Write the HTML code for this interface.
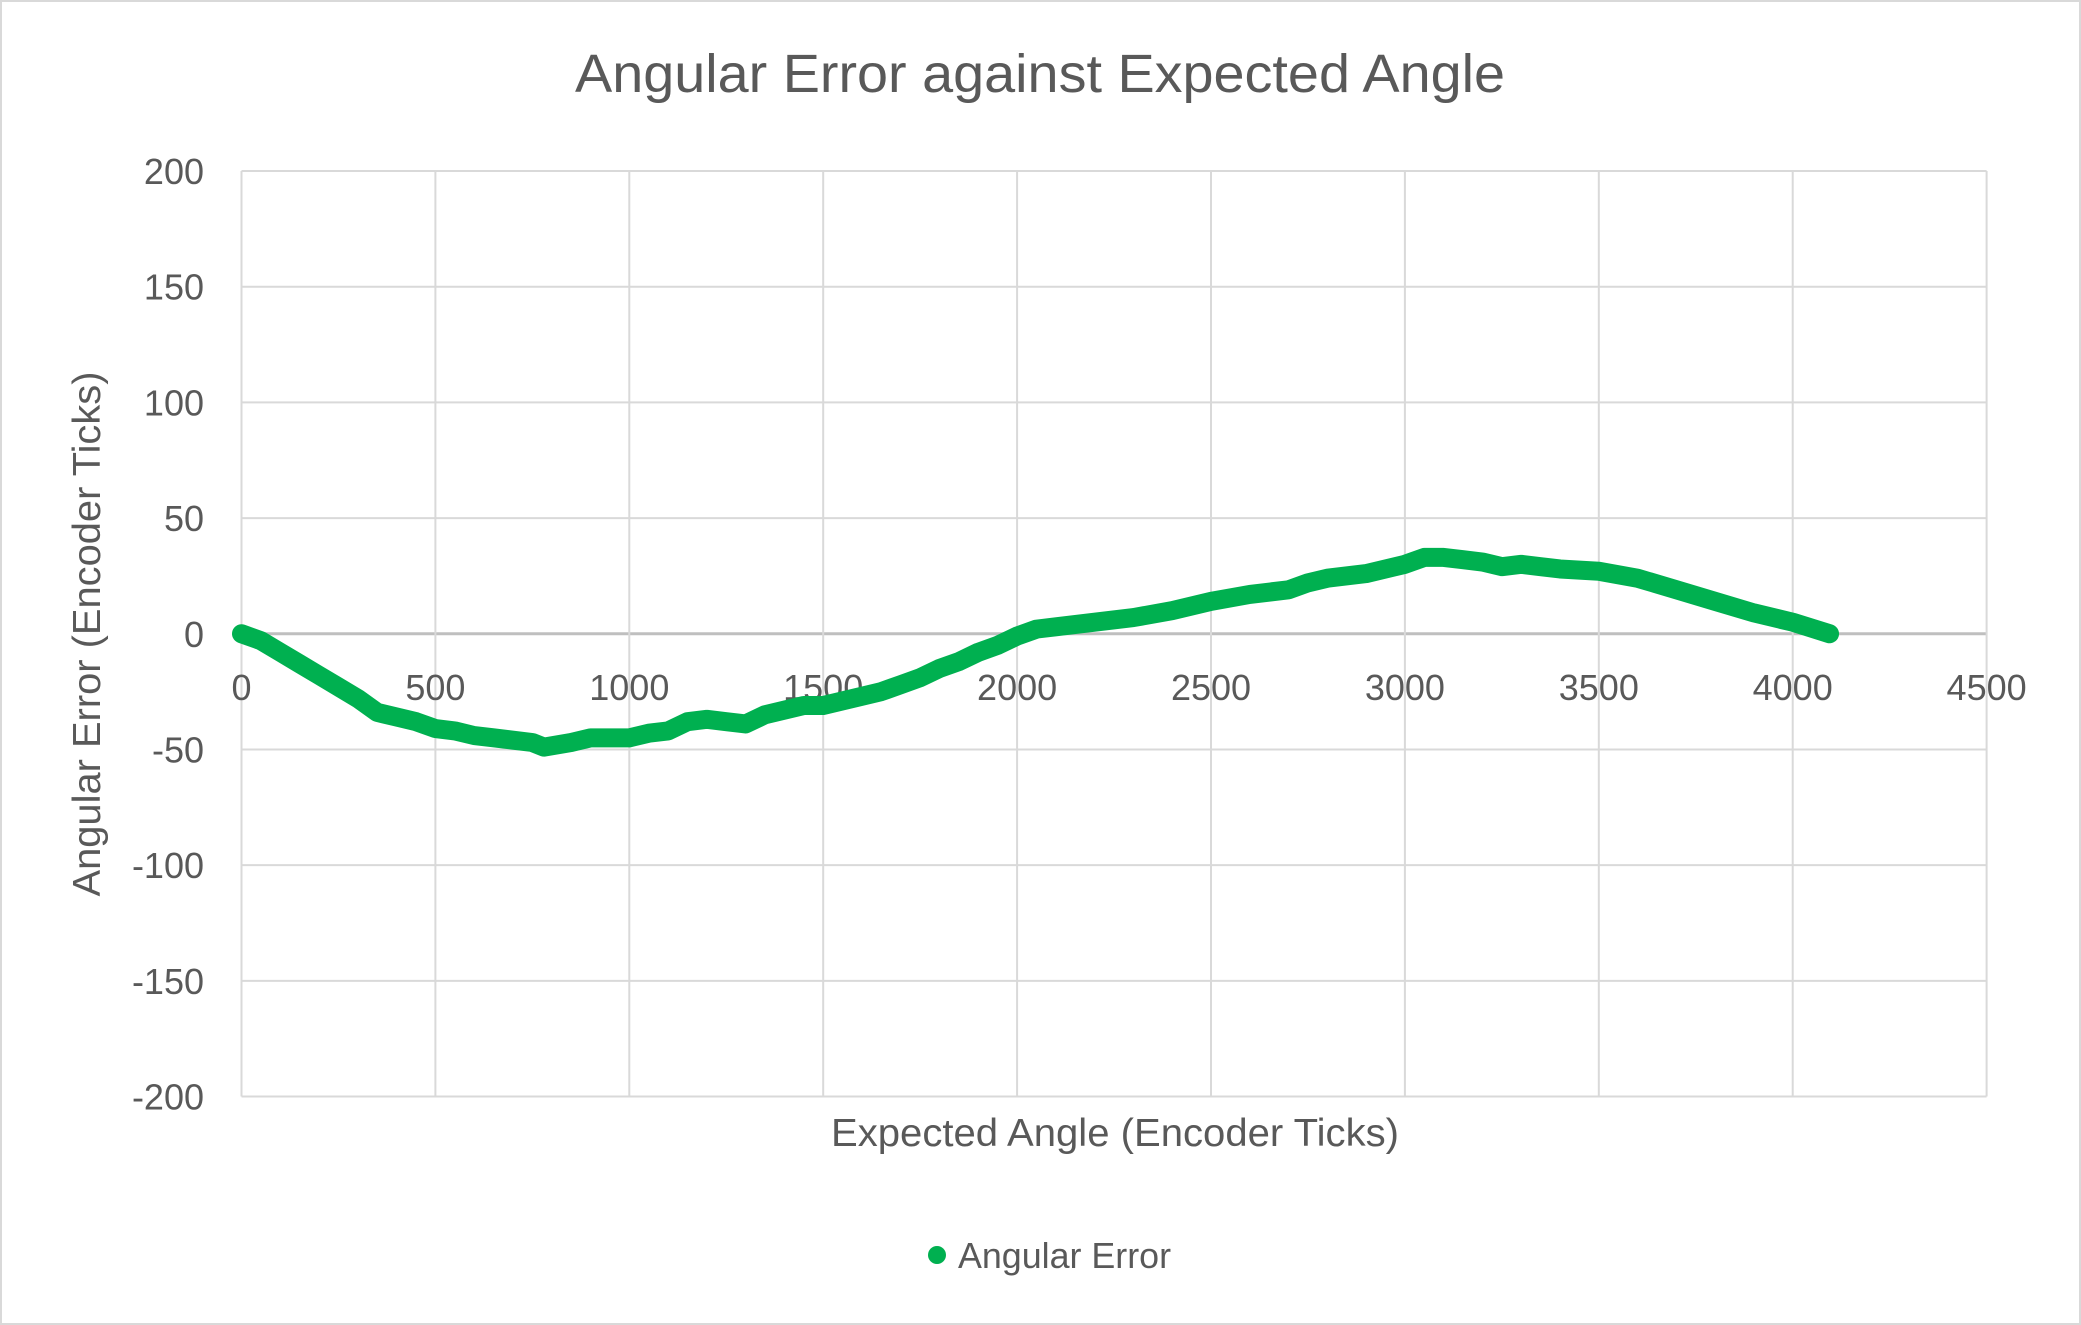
<!DOCTYPE html>
<html><head><meta charset="utf-8"><style>
html,body{margin:0;padding:0;background:#fff;}
svg{display:block;font-family:"Liberation Sans",sans-serif;}
</style></head><body>
<svg id="chart" width="2081" height="1325" viewBox="0 0 2081 1325">
<rect x="1" y="1" width="2079" height="1323" fill="#fff" stroke="#d9d9d9" stroke-width="2"/>
<text x="1040" y="92" text-anchor="middle" font-size="54" fill="#595959" textLength="930" lengthAdjust="spacingAndGlyphs">Angular Error against Expected Angle</text>
<g id="grid"></g>
<g id="ylabels"></g>
<g id="xlabels"></g>
<g id="series"></g>
<text x="1115" y="1146" text-anchor="middle" font-size="39" fill="#595959" textLength="568" lengthAdjust="spacingAndGlyphs">Expected Angle (Encoder Ticks)</text>
<text transform="translate(100,634) rotate(-90)" text-anchor="middle" font-size="39" fill="#595959" textLength="525" lengthAdjust="spacingAndGlyphs">Angular Error (Encoder Ticks)</text>
<g>
<circle cx="937" cy="1255" r="9" fill="#00b050"/>
<text x="958" y="1268" font-size="36" fill="#595959" textLength="213" lengthAdjust="spacingAndGlyphs">Angular Error</text>
</g>
</svg>
<script>
const xTicks=[0,500,1000,1500,2000,2500,3000,3500,4000,4500];
const yTicks=[200,150,100,50,0,-50,-100,-150,-200];
const xValues=[0,50,100,150,200,250,300,350,400,450,500,550,600,650,700,750,780,850,900,1000,1050,1100,1150,1200,1250,1300,1350,1400,1450,1500,1550,1600,1650,1700,1750,1800,1850,1900,1950,2000,2050,2100,2200,2300,2400,2500,2600,2700,2750,2800,2900,3000,3050,3100,3150,3200,3250,3300,3350,3400,3500,3600,3700,3800,3900,4000,4095];
const yValues=[0,-3,-8,-13,-18,-23,-28,-34,-36,-38,-41,-42,-44,-45,-46,-47,-49,-47,-45,-45,-43,-42,-38,-37,-38,-39,-35,-33,-31,-31,-29,-27,-25,-22,-19,-15,-12,-8,-5,-1,2,3,5,7,10,14,17,19,22,24,26,30,33,33,32,31,29,30,29,28,27,24,19,14,9,5,0];
const NS="http://www.w3.org/2000/svg";
const L=241.5,R=1986.6,T=171,B=1096.5;
const sx=v=>L+(v-0)/(4500-0)*(R-L);
const sy=v=>B-(v+200)/400*(B-T);
const grid=document.getElementById('grid');
for(const t of yTicks){
 const l=document.createElementNS(NS,'line');
 
 
 l.setAttribute('x1',L);l.setAttribute('x2',R);l.setAttribute('y1',sy(t));l.setAttribute('y2',sy(t));
 l.setAttribute('stroke',t===0?'#bfbfbf':'#d9d9d9');l.setAttribute('stroke-width',t===0?3:2);
 grid.appendChild(l);
 const tx=document.createElementNS(NS,'text');
 
 
 tx.setAttribute('x',204);tx.setAttribute('y',sy(t)+13);tx.setAttribute('text-anchor','end');
 tx.setAttribute('font-size','36');tx.setAttribute('fill','#595959');tx.textContent=t;
 document.getElementById('ylabels').appendChild(tx);
}
for(const t of xTicks){
 const l=document.createElementNS(NS,'line');
 
 
 l.setAttribute('x1',sx(t));l.setAttribute('x2',sx(t));l.setAttribute('y1',T);l.setAttribute('y2',B);
 l.setAttribute('stroke','#d9d9d9');l.setAttribute('stroke-width',2);
 grid.appendChild(l);
 const tx=document.createElementNS(NS,'text');
 
 
 tx.setAttribute('x',sx(t));tx.setAttribute('y',700);tx.setAttribute('text-anchor','middle');
 tx.setAttribute('font-size','36');tx.setAttribute('fill','#595959');tx.textContent=t;
 document.getElementById('xlabels').appendChild(tx);
}
const pts=xValues.map((x,i)=>sx(x)+','+sy(yValues[i])).join(' ');
const pl=document.createElementNS(NS,'polyline');


pl.setAttribute('points',pts);pl.setAttribute('fill','none');pl.setAttribute('stroke','#00b050');
pl.setAttribute('stroke-width','19');pl.setAttribute('stroke-linejoin','round');pl.setAttribute('stroke-linecap','round');
document.getElementById('series').appendChild(pl);
</script>
</body></html>
